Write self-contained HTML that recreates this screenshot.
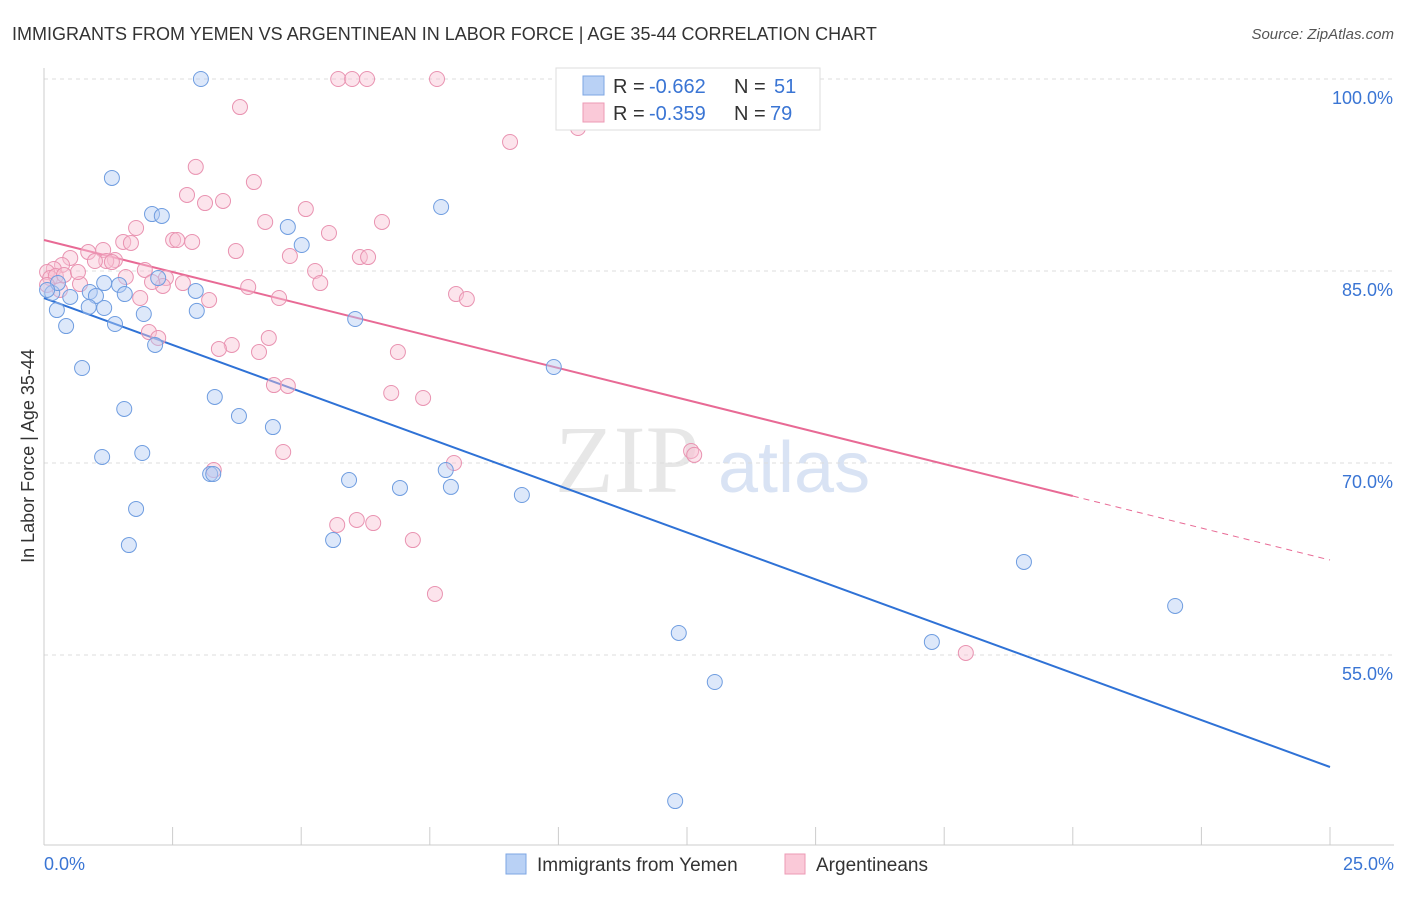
<!DOCTYPE html>
<html><head><meta charset="utf-8"><style>
body{margin:0;background:#fff;font-family:"Liberation Sans",sans-serif;}
</style></head><body>
<svg id="chart" width="1406" height="892" viewBox="0 0 1406 892" xmlns="http://www.w3.org/2000/svg" style="font-family:'Liberation Sans',sans-serif">
<text x="12" y="40" font-size="18" fill="#333">IMMIGRANTS FROM YEMEN VS ARGENTINEAN IN LABOR FORCE | AGE 35-44 CORRELATION CHART</text>
<text x="1394" y="39" font-size="15" fill="#555" text-anchor="end" font-style="italic">Source: ZipAtlas.com</text>
<g><text x="555" y="492" font-size="96" fill="#ddd" font-family="'Liberation Serif',serif" opacity="0.7">ZIP</text><text x="718" y="492" font-size="72" fill="#c9d8f0" opacity="0.7">atlas</text></g>
<g id="grid"></g><g id="axes"></g><g id="lines"></g><g id="pts"></g>
<text transform="translate(34,456) rotate(-90)" font-size="18" fill="#333" text-anchor="middle">In Labor Force | Age 35-44</text>
<g>
<rect x="556" y="68" width="264" height="62" fill="#fff" stroke="#ddd"/>
<rect x="583" y="76" width="21" height="19" fill="#b9d1f5" stroke="#7da6e3"/>
<rect x="583" y="103" width="21" height="19" fill="#fac9d8" stroke="#ec9ab5"/>
<text x="613" y="93" font-size="20" fill="#333">R =</text>
<text x="649" y="93" font-size="20" fill="#3a75d4">-0.662</text>
<text x="734" y="93" font-size="20" fill="#333">N =</text>
<text x="774" y="93" font-size="20" fill="#3a75d4">51</text>
<text x="613" y="120" font-size="20" fill="#333">R =</text>
<text x="649" y="120" font-size="20" fill="#3a75d4">-0.359</text>
<text x="734" y="120" font-size="20" fill="#333">N =</text>
<text x="770" y="120" font-size="20" fill="#3a75d4">79</text>
</g>
<g>
<rect x="506" y="854" width="20" height="20" fill="#b9d1f5" stroke="#7da6e3"/>
<text x="537" y="871" font-size="19" fill="#333">Immigrants from Yemen</text>
<rect x="785" y="854" width="20" height="20" fill="#fac9d8" stroke="#ec9ab5"/>
<text x="816" y="871" font-size="19" fill="#333">Argentineans</text>
</g>
</svg>
<script>
const blueX=[3.05,1.32,2.10,2.29,7.72,4.74,5.01,2.22,1.46,2.95,0.16,0.51,0.89,1.01,1.57,0.27,0.06,1.17,0.25,0.87,1.17,1.94,2.97,0.43,1.38,6.05,2.16,0.74,9.91,1.56,3.32,3.79,4.45,1.13,1.91,3.23,3.29,7.81,5.93,6.92,7.91,9.29,1.79,1.65,5.62,19.05,21.99,12.34,17.26,13.04,12.27];
const blueY=[100,92.27,89.45,89.30,90.0,88.44,87.03,84.45,83.91,83.44,83.28,82.97,83.36,83.05,83.20,84.06,83.52,84.06,81.95,82.19,82.11,81.64,81.88,80.70,80.86,81.25,79.22,77.42,77.5,74.22,75.16,73.67,72.81,70.47,70.78,69.14,69.14,69.45,68.67,68.05,68.13,67.5,66.41,63.59,63.98,62.27,58.83,56.72,56.02,52.89,43.59];
const pinkX=[5.72,5.99,6.28,7.64,3.81,9.06,10.38,2.95,4.08,2.78,3.13,3.48,5.09,4.30,6.57,1.79,5.54,2.51,2.59,2.88,1.54,1.69,1.15,0.86,3.73,4.78,6.14,6.30,1.38,1.21,0.99,0.51,0.35,0.19,0.06,0.12,0.23,0.39,0.70,1.59,1.96,2.37,2.70,2.31,3.97,5.27,5.37,4.57,1.87,3.21,8.01,8.22,2.04,2.22,4.37,3.65,3.40,4.18,6.88,4.47,4.74,6.75,7.37,4.65,3.30,7.97,12.58,12.64,5.70,6.08,6.40,7.17,7.60,17.92,0.06,0.31,1.32,0.66,2.10];
const pinkY=[100,100,100,100,97.81,95.08,96.17,93.13,91.95,90.94,90.31,90.47,89.84,88.83,88.83,88.36,87.97,87.42,87.42,87.27,87.27,87.19,86.64,86.48,86.56,86.17,86.09,86.09,85.86,85.78,85.78,86.02,85.47,85.16,84.92,84.45,84.61,84.69,83.98,84.53,85.08,84.45,84.06,83.83,83.75,85.0,84.06,82.89,82.89,82.73,83.2,82.81,80.23,79.77,79.77,79.22,78.91,78.67,78.67,76.09,76.02,75.47,75.08,70.86,69.45,70.0,70.94,70.63,65.16,65.55,65.31,63.98,59.77,55.16,83.91,83.52,85.70,84.92,84.14];
const yTicks=[100,85,70,55];
const yTickLabels=["100.0%","85.0%","70.0%","55.0%"];
const xTicks=[0,2.5,5,7.5,10,12.5,15,17.5,20,22.5,25];
const blueFit=[82.89,46.25];
const pinkFit=[87.42,62.42];
const pinkSolidEnd=20;
const NS="http://www.w3.org/2000/svg";
const sx=v=>44+v*51.44, sy=v=>79+(100-v)*12.8;
function mk(p,t,a){const e=document.createElementNS(NS,t);for(const k in a)e.setAttribute(k,a[k]);document.getElementById(p).appendChild(e);return e;}
yTicks.forEach((t,i)=>{
 const l=mk('grid','line',{x1:44,x2:1394,y1:sy(t),y2:sy(t),stroke:'#ddd','stroke-dasharray':'4,4'});
 
 
 const tx=mk('axes','text',{x:1393,y:sy(t)+25,'font-size':18,fill:'#3a75d4','text-anchor':'end'});
 tx.textContent=yTickLabels[i];
 
 
});
const ax=mk('axes','line',{x1:44,x2:44,y1:68,y2:845,stroke:'#ccc'});


const bx=mk('axes','line',{x1:44,x2:1394,y1:845,y2:845,stroke:'#ccc'});


xTicks.forEach(t=>{const l=mk('axes','line',{x1:sx(t),x2:sx(t),y1:827,y2:845,stroke:'#ccc'});
 
 });
[[0,'start',44],[25,'end',1394]].forEach(([v,a,x])=>{const t=mk('axes','text',{x:x,y:870,'font-size':18,fill:'#3a75d4','text-anchor':a});t.textContent=v.toFixed(1)+'%';
 
 });
function pts(X,Y,f,s,name){X.forEach((x,i)=>{const c=mk('pts','circle',{cx:sx(x),cy:sy(Y[i]),r:7.5,fill:f,'fill-opacity':0.45,stroke:s,'stroke-width':1});
 
 });}
pts(pinkX,pinkY,'#f9c3d4','#e993b1','argentinean-point');
pts(blueX,blueY,'#b3cdf3','#6f9de0','yemen-point');
const fy=(f,x)=>f[0]+(f[1]-f[0])*x/25;
const bl=mk('lines','line',{x1:sx(0),y1:sy(blueFit[0]),x2:sx(25),y2:sy(blueFit[1]),stroke:'#2f72d6','stroke-width':2});


const pl=mk('lines','line',{x1:sx(0),y1:sy(pinkFit[0]),x2:sx(pinkSolidEnd),y2:sy(fy(pinkFit,pinkSolidEnd)),stroke:'#e86a95','stroke-width':2});


const pd=mk('lines','line',{x1:sx(pinkSolidEnd),y1:sy(fy(pinkFit,pinkSolidEnd)),x2:sx(25),y2:sy(pinkFit[1]),stroke:'#e86a95','stroke-width':1,'stroke-dasharray':'6,5'});


</script>
</body></html>
